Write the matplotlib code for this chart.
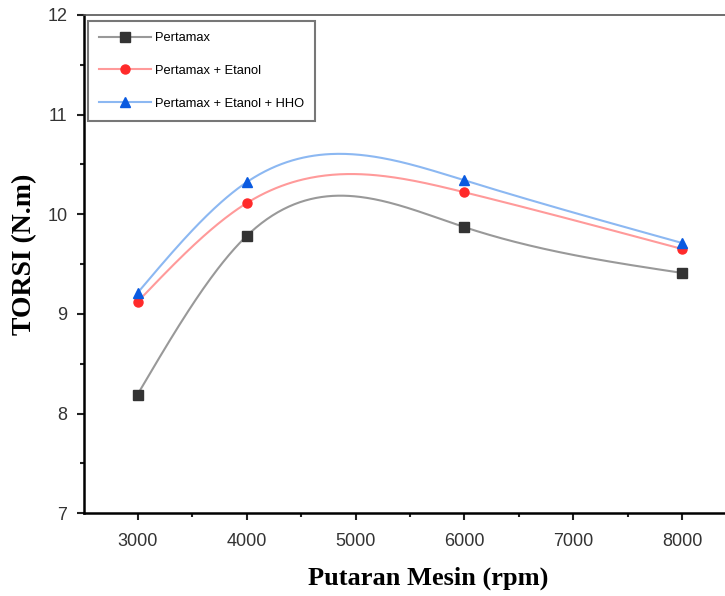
import matplotlib
matplotlib.use("Agg")
import matplotlib.pyplot as plt
import numpy as np
from matplotlib.ticker import MultipleLocator

RPM = [3000, 4000, 6000, 8000]
PERTAMAX = [8.19, 9.78, 9.87, 9.41]
PERTAMAX_ETANOL = [9.12, 10.11, 10.22, 9.65]
PERTAMAX_ETANOL_HHO = [9.21, 10.32, 10.34, 9.71]

SERIES = [
    ("Pertamax", PERTAMAX, "#999999", "#333333", "s"),
    ("Pertamax + Etanol", PERTAMAX_ETANOL, "#ff9a9a", "#ff2a2a", "o"),
    ("Pertamax + Etanol + HHO", PERTAMAX_ETANOL_HHO, "#8cb8f2", "#0a5ae0", "^"),
]


def natural_spline(x, y, n=300):
    # natural cubic spline through the measured points (line style only)
    x = np.asarray(x, float)
    y = np.asarray(y, float)
    k = len(x)
    h = np.diff(x)
    A = np.zeros((k, k))
    b = np.zeros(k)
    A[0, 0] = A[-1, -1] = 1
    for i in range(1, k - 1):
        A[i, i - 1] = h[i - 1]
        A[i, i] = 2 * (h[i - 1] + h[i])
        A[i, i + 1] = h[i]
        b[i] = 6 * ((y[i + 1] - y[i]) / h[i] - (y[i] - y[i - 1]) / h[i - 1])
    m = np.linalg.solve(A, b)
    xs = np.linspace(x[0], x[-1], n)
    idx = np.clip(np.searchsorted(x, xs) - 1, 0, k - 2)
    x0, x1 = x[idx], x[idx + 1]
    hh = x1 - x0
    t0, t1 = x1 - xs, xs - x0
    ys = (m[idx] * t0 ** 3 + m[idx + 1] * t1 ** 3) / (6 * hh) \
        + (y[idx] / hh - m[idx] * hh / 6) * t0 \
        + (y[idx + 1] / hh - m[idx + 1] * hh / 6) * t1
    return xs, ys


fig = plt.figure(figsize=(7.25, 5.96), dpi=100)
ax = fig.add_axes([0.116, 0.139, 0.884, 0.836])

handles = []
for label, vals, lc, mc, mk in SERIES:
    xs, ys = natural_spline(RPM, vals)
    ax.plot(xs, ys, color=lc, linewidth=1.5, zorder=2)
    ax.plot(RPM, vals, linestyle="none", marker=mk, markersize=6.5,
            color=mc, markeredgecolor=mc, zorder=3)
    h, = ax.plot([], [], color=lc, linewidth=1.5, marker=mk, markersize=6.5,
                 markerfacecolor=mc, markeredgecolor=mc, label=label)
    handles.append(h)

ax.set_xlim(2510, 8390)
ax.set_ylim(7, 12)
ax.xaxis.set_major_locator(MultipleLocator(1000))
ax.xaxis.set_minor_locator(MultipleLocator(500))
ax.yaxis.set_major_locator(MultipleLocator(1))
ax.yaxis.set_minor_locator(MultipleLocator(0.5))
ax.tick_params(which="both", direction="out", width=1.5, colors="#222222",
               labelcolor="#333333", labelsize=13)
ax.tick_params(which="major", length=5)
ax.tick_params(which="minor", length=3)
ax.tick_params(axis="x", which="major", pad=9)
ax.tick_params(axis="y", which="major", pad=7)
for lab in ax.get_xticklabels() + ax.get_yticklabels():
    lab.set_family("Liberation Sans")
for side in ["left", "bottom"]:
    ax.spines[side].set_linewidth(1.8)
ax.spines["top"].set_linewidth(1.2)
ax.spines["top"].set_color("#555555")
ax.spines["right"].set_visible(False)

ax.set_xlabel("Putaran Mesin (rpm)", fontfamily="Liberation Serif",
              fontweight="bold", fontsize=19)
ax.set_ylabel("TORSI (N.m)", fontfamily="Liberation Serif",
              fontweight="bold", fontsize=20)
ax.xaxis.set_label_coords(0.537, -0.108)
ax.yaxis.set_label_coords(-0.073, 0.52)

leg = ax.legend(handles=handles, loc="upper left", bbox_to_anchor=(0.0, 0.995),
                prop={"family": "Liberation Sans", "size": 9.3},
                handlelength=4.0, handletextpad=0.35, labelspacing=1.6,
                borderpad=0.85, borderaxespad=0.3,
                fancybox=False, edgecolor="#777777", framealpha=1)
leg.get_frame().set_linewidth(1.5)

fig.savefig("out.png", dpi=100)
